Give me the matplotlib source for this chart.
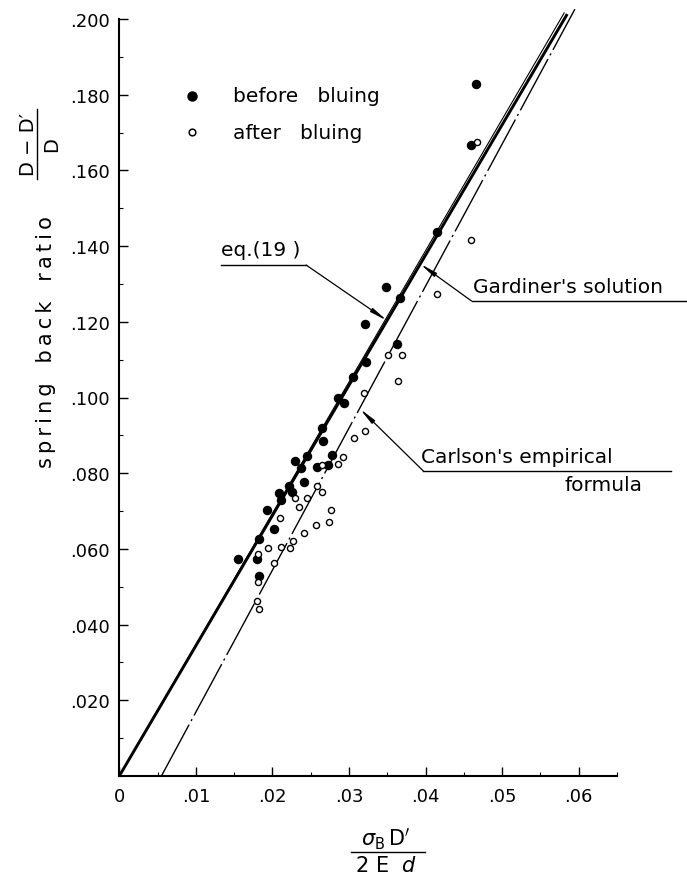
import matplotlib
matplotlib.use("Agg")
import matplotlib.pyplot as plt
from matplotlib.ticker import MultipleLocator, FixedLocator, FixedFormatter
from matplotlib.lines import Line2D

# ---------------- data ----------------
before_x = [0.02646, 0.02659, 0.02450, 0.02297, 0.02776, 0.02371, 0.02580, 0.02732,
            0.02414, 0.02222, 0.02092, 0.02254, 0.02110, 0.01927, 0.02026, 0.01822,
            0.01548, 0.01796, 0.01830,
            0.03626, 0.03225, 0.03051, 0.02850, 0.02930, 0.03486, 0.03203, 0.03669,
            0.04663, 0.04593, 0.04149]
before_y = [0.0919, 0.0886, 0.0845, 0.0833, 0.0848, 0.0813, 0.0816, 0.0822,
            0.0776, 0.0765, 0.0748, 0.0750, 0.0730, 0.0703, 0.0653, 0.0626,
            0.0572, 0.0573, 0.0528,
            0.1141, 0.1093, 0.1053, 0.0998, 0.0985, 0.1291, 0.1194, 0.1262,
            0.1828, 0.1667, 0.1436]

after_x = [0.03212, 0.03059, 0.02920, 0.02855, 0.02646, 0.02580, 0.02646, 0.02297,
           0.02450, 0.02353, 0.02763, 0.02101, 0.02741, 0.02571, 0.02418, 0.02267,
           0.02110, 0.02231, 0.01948, 0.01809, 0.02026, 0.01809, 0.01804, 0.01830,
           0.03504, 0.03691, 0.03639, 0.03190, 0.04149, 0.04672, 0.04597]
after_y = [0.0912, 0.0892, 0.0844, 0.0823, 0.0822, 0.0765, 0.0751, 0.0734,
           0.0734, 0.0712, 0.0703, 0.0682, 0.0672, 0.0663, 0.0641, 0.0622,
           0.0606, 0.0602, 0.0602, 0.0587, 0.0562, 0.0512, 0.0463, 0.0441,
           0.1112, 0.1113, 0.1044, 0.1012, 0.1273, 0.1676, 0.1417]

# theoretical / empirical lines (end points)
eq19_x = [0.0, 0.0585]
eq19_y = [0.0, 0.2013]
gardiner_x = [0.0, 0.0581]
gardiner_y = [0.0, 0.2016]
carlson_x = [0.0055, 0.0595]
carlson_y = [0.0, 0.2026]

x_ticks = [0, 0.01, 0.02, 0.03, 0.04, 0.05, 0.06]
x_labels = ["0", ".01", ".02", ".03", ".04", ".05", ".06"]
y_ticks = [0.02, 0.04, 0.06, 0.08, 0.10, 0.12, 0.14, 0.16, 0.18, 0.20]
y_labels = [".020", ".040", ".060", ".080", ".100", ".120", ".140", ".160", ".180", ".200"]

legend_labels = ["before   bluing", "after   bluing"]

# ---------------- figure ----------------
W, H = 687, 878
fig = plt.figure(figsize=(W / 100, H / 100), dpi=100)
x0, x1, yb, yt = 119.3, 617.0, 777.0, 20.0
ax = fig.add_axes([x0 / W, 1 - yb / H, (x1 - x0) / W, (yb - yt) / H])
ax.set_xlim(0, 0.065)
ax.set_ylim(0, 0.2)

for s in ["top", "right"]:
    ax.spines[s].set_visible(False)
for s in ["left", "bottom"]:
    ax.spines[s].set_linewidth(1.5)

ax.xaxis.set_major_locator(FixedLocator(x_ticks))
ax.xaxis.set_major_formatter(FixedFormatter(x_labels))
ax.xaxis.set_minor_locator(MultipleLocator(0.005))
ax.yaxis.set_major_locator(FixedLocator(y_ticks))
ax.yaxis.set_major_formatter(FixedFormatter(y_labels))
ax.yaxis.set_minor_locator(MultipleLocator(0.01))
ax.tick_params(which="major", direction="in", length=6.5, width=1.0, labelsize=13, pad=7)
ax.tick_params(which="minor", direction="in", length=3, width=0.8)
ax.tick_params(axis="x", which="major", pad=8)

# lines
ax.plot(eq19_x, eq19_y, color="k", lw=2.1, clip_on=False, solid_capstyle="butt")
ax.plot(gardiner_x, gardiner_y, color="k", lw=0.8, clip_on=False)
ax.plot(carlson_x, carlson_y, color="k", lw=1.0, clip_on=False,
        linestyle=(0, (42, 3, 1.5, 3)))

# points
ax.plot(before_x, before_y, "o", color="k", markersize=5.8, clip_on=False)
ax.plot(after_x, after_y, "o", markerfacecolor="white", markeredgecolor="k",
        markeredgewidth=1.0, markersize=4.4, clip_on=False)

# legend (manual)
ax.plot([0.00944], [0.1797], "o", color="k", markersize=6.5, clip_on=False)
ax.plot([0.00944], [0.1701], "o", markerfacecolor="white", markeredgecolor="k",
        markeredgewidth=1.1, markersize=4.8, clip_on=False)
ax.text(0.01486, 0.1797, legend_labels[0], fontsize=14.5, va="center", ha="left")
ax.text(0.01486, 0.1701, legend_labels[1], fontsize=14.5, va="center", ha="left")

# annotations
arrow = dict(arrowstyle="-|>,head_length=1.0,head_width=0.13", lw=0.9, color="k",
             shrinkA=0, shrinkB=0)
fs_ann = 14.5
# eq.(19)
ax.text(0.0133, 0.1365, "eq.(19 )", fontsize=fs_ann, ha="left", va="bottom")
ax.plot([0.0133, 0.0244], [0.135, 0.135], color="k", lw=1.0, clip_on=False)
ax.annotate("", xy=(0.03497, 0.1203), xytext=(0.0244, 0.135), arrowprops=arrow,
            annotation_clip=False)
# Gardiner's solution
ax.text(0.0462, 0.1268, "Gardiner's solution", fontsize=fs_ann, ha="left", va="bottom")
ax.plot([0.0460, 0.0744], [0.1255, 0.1255], color="k", lw=1.0, clip_on=False)
ax.annotate("", xy=(0.0393, 0.1353), xytext=(0.0460, 0.1255), arrowprops=arrow,
            annotation_clip=False)
# Carlson's empirical formula
ax.text(0.0394, 0.0818, "Carlson's empirical", fontsize=fs_ann, ha="left", va="bottom")
ax.text(0.0632, 0.0770, "formula", fontsize=fs_ann, ha="center", va="center")
ax.plot([0.0397, 0.0721], [0.0806, 0.0806], color="k", lw=1.0, clip_on=False)
ax.annotate("", xy=(0.03143, 0.0970), xytext=(0.0397, 0.0806), arrowprops=arrow,
            annotation_clip=False)

# y label
ylab = "\u2009".join("spring") + "   " + "\u2009".join("back") + "   " + "\u2009".join("ratio")
fig.text(46 / W, 1 - 342 / H, ylab, rotation=90, ha="center", va="center", fontsize=15)
fig.text(28 / W, 1 - 145 / H, "D \u2212 D\u2032", rotation=90, ha="center", va="center", fontsize=14)
fig.add_artist(Line2D([37 / W, 37 / W], [1 - 110 / H, 1 - 180 / H], color="k", lw=1.0))
fig.text(52 / W, 1 - 145 / H, "D", rotation=90, ha="center", va="center", fontsize=14)

# x label
fig.text(386 / W, 1 - 839 / H, r"$\sigma_{\mathrm{B}}\,\mathrm{D}'$", ha="center", va="center", fontsize=15)
fig.add_artist(Line2D([351 / W, 425 / W], [1 - 853 / H, 1 - 853 / H], color="k", lw=1.0))
fig.text(386 / W, 1 - 866 / H, r"$\mathrm{2\ E}\ \ d$", ha="center", va="center", fontsize=15)

fig.savefig("out.png", dpi=100)
